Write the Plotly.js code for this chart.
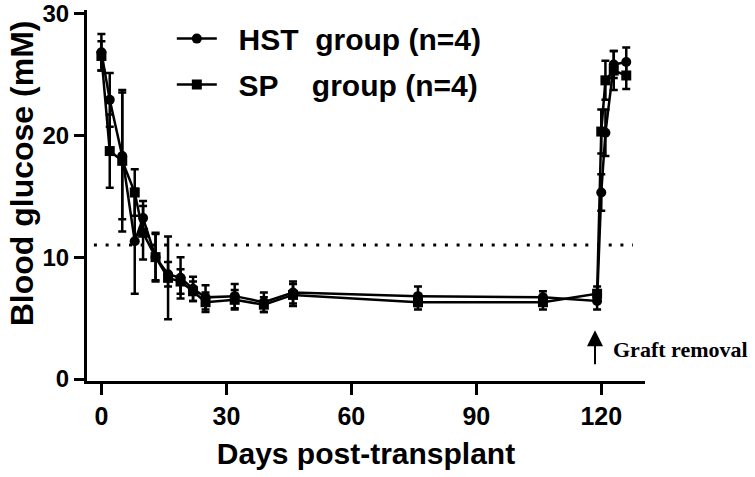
<!DOCTYPE html>
<html>
<head>
<meta charset="utf-8">
<script src="https://cdn.plot.ly/plotly-3.0.1.min.js"></script>
<style>
  html, body { margin: 0; padding: 0; background: #fff; }
  #plot { width: 755px; height: 477px; }
</style>
</head>
<body>
<div id="plot"></div>
<script>
// days after transplant (graft removed on day ~119)
const days = [0, 2, 5, 8, 10, 13, 16, 19, 22, 25, 32, 39, 46, 76, 106, 119, 120, 121, 123, 126]

// mean blood glucose (mM) and error
const hstMean = [26.8, 22.9, 18.3, 11.3, 13.2, 10.0, 8.6, 8.3, 7.4, 6.7, 6.8, 6.3, 7.1, 6.8, 6.7, 6.4, 15.3, 20.2, 25.8, 26.0]
const hstErr  = [1.5, 2.2, 5.2, 4.3, 1.4, 1.9, 1.0, 1.7, 1.0, 1.0, 1.0, 0.8, 0.9, 0.8, 0.5, 0.7, 1.5, 1.9, 1.1, 1.2]
const spMean  = [26.5, 18.7, 17.9, 15.3, 12.0, 10.0, 8.3, 8.0, 7.2, 6.3, 6.5, 6.1, 6.9, 6.3, 6.3, 7.0, 20.3, 24.5, 25.3, 24.9]
const spErr   = [1.2, 3.0, 5.8, 1.9, 2.2, 2.0, 3.4, 1.0, 0.8, 0.8, 0.8, 0.6, 0.9, 0.6, 0.6, 0.6, 1.8, 1.6, 1.6, 1.1]

// diabetic threshold line
const thresholdDays = [-1.8, 127.6]
const threshold = 11

// graft removal marker
const removalDay = 118.5
const arrowFrom = 1.1
const arrowTo = 4.0

const xTicks = [0, 30, 60, 90, 120]
const yTicks = [0, 10, 20, 30]

const sans = 'Liberation Sans, Arial, sans-serif'
const nb = '\u00a0'

const errStyle = {thickness: 2.5, width: 4, color: '#000'}

const hst = {
  x: days,
  y: hstMean,
  error_y: Object.assign({type: 'data', array: hstErr}, errStyle),
  name: nb + nb + 'HST' + nb + nb + 'group (n=4)',
  legendgroup: 'hst',
  mode: 'lines+markers',
  type: 'scatter',
  line: {color: '#000', width: 2.5},
  marker: {symbol: 'circle', size: 10, color: '#000'}
}

const sp = {
  x: days,
  y: spMean,
  error_y: Object.assign({type: 'data', array: spErr}, errStyle),
  name: nb + nb + 'SP' + nb + nb + nb + nb + 'group (n=4)',
  legendgroup: 'sp',
  mode: 'lines+markers',
  type: 'scatter',
  line: {color: '#000', width: 2.5},
  marker: {symbol: 'square', size: 10, color: '#000'}
}

const cutoff = {
  x: thresholdDays,
  y: thresholdDays.map(function () { return threshold }),
  mode: 'lines',
  type: 'scatter',
  showlegend: false,
  hoverinfo: 'skip',
  line: {color: '#000', width: 3, dash: '3px,8.7px'}
}

var layout = {
  width: 755,
  height: 477,
  margin: {l: 87, r: 110, t: 10, b: 96},
  paper_bgcolor: '#fff',
  plot_bgcolor: '#fff',
  font: {family: sans, color: '#000'},
  showlegend: true,
  legend: {
    x: 0.152,
    y: 0.993,
    xanchor: 'left',
    yanchor: 'top',
    bgcolor: 'rgba(0,0,0,0)',
    itemwidth: 40,
    traceorder: 'grouped',
    tracegroupgap: 4,
    font: {family: sans, size: 30, weight: 'bold', color: '#000'}
  },
  xaxis: {
    range: [-3.46, 130.5],
    tickvals: xTicks,
    ticks: 'outside',
    ticklen: 11,
    tickwidth: 3,
    tickcolor: '#000',
    showline: true,
    linewidth: 3,
    linecolor: '#000',
    showgrid: false,
    zeroline: false,
    ticklabeloverflow: 'allow',
    tickfont: {family: sans, size: 25, weight: 'bold'},
    title: {text: 'Days post-transplant', standoff: 14, font: {family: sans, size: 30, weight: 'bold'}}
  },
  yaxis: {
    range: [-0.16, 30.27],
    tickvals: yTicks,
    ticks: 'outside',
    ticklen: 10,
    tickwidth: 3,
    tickcolor: '#000',
    showline: true,
    linewidth: 3,
    linecolor: '#000',
    showgrid: false,
    zeroline: false,
    ticklabeloverflow: 'allow',
    tickfont: {family: sans, size: 24, weight: 'bold'}
  },
  annotations: [
    {
      // y axis title, placed by hand so it sits a little above centre like the original
      x: -0.117, y: 0.559,
      xref: 'paper', yref: 'paper',
      xanchor: 'center', yanchor: 'middle',
      textangle: -90,
      text: 'Blood glucose (mM)',
      showarrow: false,
      borderpad: 0,
      font: {family: sans, size: 32, weight: 'bold', color: '#000'}
    },
    {
      x: removalDay, y: arrowTo,
      ax: removalDay, ay: arrowFrom,
      xref: 'x', yref: 'y', axref: 'x', ayref: 'y',
      text: '',
      showarrow: true,
      arrowhead: 2,
      arrowsize: 1.6,
      arrowwidth: 2,
      arrowcolor: '#000'
    },
    {
      x: removalDay + 3.9, y: 2.4,
      xref: 'x', yref: 'y',
      xanchor: 'left', yanchor: 'middle',
      text: 'Graft removal',
      showarrow: false,
      font: {family: 'Liberation Serif, Times New Roman, serif', size: 22, weight: 'bold', color: '#000'}
    }
  ]
}

var config = {staticPlot: true}

Plotly.newPlot('plot', [cutoff, hst, sp], layout, config)
</script>
</body>
</html>
